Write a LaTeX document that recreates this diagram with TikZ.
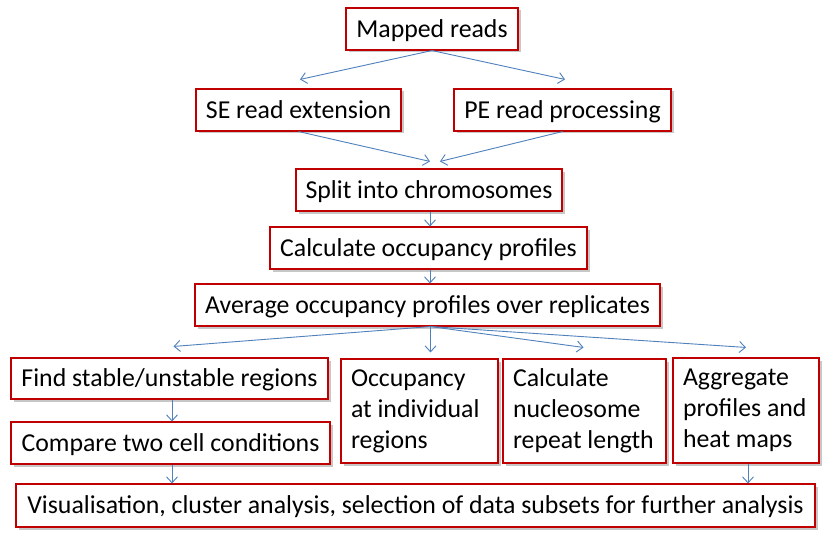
\documentclass[tikz,border=0pt]{standalone}
\usepackage{fontspec}
\setmainfont{Carlito}
\usetikzlibrary{arrows.meta,shadows,calc}
\definecolor{boxred}{RGB}{192,0,0}
\definecolor{arrblue}{RGB}{79,129,189}
\begin{document}
\begin{tikzpicture}[x=1pt,y=-1pt,
  base/.style={draw=boxred,line width=1.1pt,fill=white,inner sep=0pt,
    font=\fontsize{25.8}{31}\selectfont,
    drop shadow={shadow xshift=2.5pt,shadow yshift=-2.5pt,opacity=0.22,fill=black}},
  box/.style={base,text height=17pt,text depth=0.5pt},
  mbox/.style={base,align=flush left,inner xsep=10pt},
  arr/.style={draw=arrblue,line width=0.9pt,-{Straight Barb[length=6pt,width=11pt]}}]
\fill[white] (0,0) rectangle (834,540);
\useasboundingbox (0,0) rectangle (834,540);
\node[box,minimum width=172pt,minimum height=42pt] (mr) at (432,29) {Mapped reads};
\node[box,minimum width=205pt,minimum height=42pt] (se) at (298.5,110) {SE read extension};
\node[box,minimum width=217pt,minimum height=42pt] (pe) at (562.5,110) {PE read processing};
\node[box,minimum width=266pt,minimum height=42pt] (split) at (429,190) {Split into chromosomes};
\node[box,minimum width=317pt,minimum height=42pt] (calc) at (428.5,248) {Calculate occupancy profiles};
\node[box,minimum width=465pt,minimum height=42pt] (avg) at (427.5,305) {Average occupancy profiles over replicates};
\node[box,minimum width=317pt,minimum height=41pt] (find) at (169.5,378.5) {Find stable/unstable regions};
\node[box,minimum width=319pt,minimum height=42pt] (comp) at (170.5,443) {Compare two cell conditions};
\node[mbox,text width=137pt,minimum width=157pt,minimum height=104pt] (occ) at (419.5,411) {\mbox{Occupancy}\\\mbox{at individual}\\\mbox{regions}};
\node[mbox,text width=143pt,minimum width=163pt,minimum height=104pt] (nrl) at (584.5,411) {\mbox{Calculate}\\\mbox{nucleosome}\\\mbox{repeat length}};
\node[mbox,text width=126pt,minimum width=146pt,minimum height=105pt] (agg) at (746,410.5) {\mbox{Aggregate}\\\mbox{profiles and}\\\mbox{heat maps}};
\node[box,minimum width=799pt,minimum height=43pt] (vis) at (415.5,505.5) {Visualisation, cluster analysis, selection of data subsets for further analysis};
\draw[arr] (mr.south) -- ([xshift=1.5pt,yshift=9pt]se.north);
\draw[arr] (mr.south) -- ([xshift=2.5pt,yshift=9pt]pe.north);
\draw[arr] (se.south) -- ([xshift=1pt,yshift=7pt]split.north);
\draw[arr] (pe.south) -- ([xshift=11pt,yshift=7pt]split.north);
\draw[arr] ([xshift=1pt]split.south) -- ([xshift=1pt]split.south |- calc.north);
\draw[arr] ([xshift=1.5pt]calc.south) -- ([xshift=1.5pt]calc.south |- avg.north);
\draw[arr] ([xshift=3pt]avg.south) -- ([xshift=4pt,yshift=11pt]find.north);
\draw[arr] ([xshift=3pt]avg.south) -- ($(avg.south |- occ.north)+(3pt,6pt)$);
\draw[arr] ([xshift=3pt]avg.south) -- ([xshift=-1pt,yshift=11pt]nrl.north);
\draw[arr] ([xshift=3pt]avg.south) -- ([yshift=10pt]agg.north);
\draw[arr] ([xshift=2.5pt]find.south) -- ([xshift=2.5pt]find.south |- comp.north);
\draw[arr] ([xshift=1.5pt]comp.south) -- ([xshift=1.5pt]comp.south |- vis.north);
\draw[arr] ([xshift=2pt]agg.south) -- ([xshift=2pt]agg.south |- vis.north);
\end{tikzpicture}
\end{document}
